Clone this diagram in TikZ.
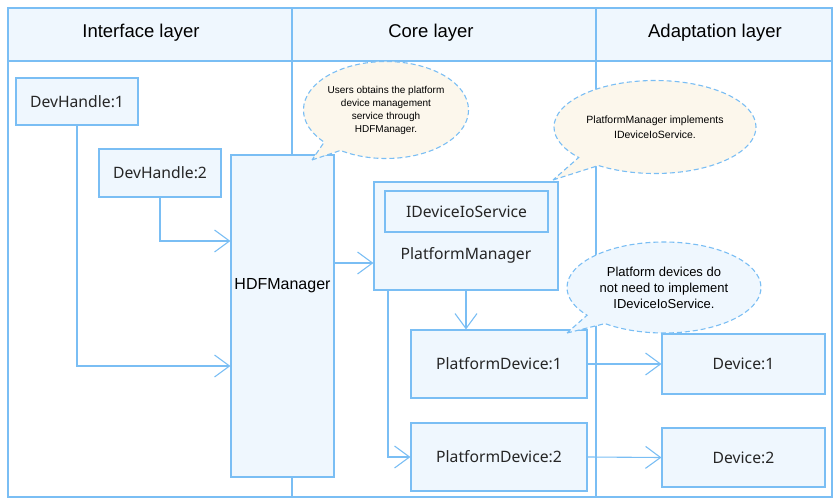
\documentclass[tikz,border=0pt]{standalone}
\usepackage{fontspec}
\setmainfont{Liberation Sans}
\newfontfamily\boxfont{Noto Sans}
\usetikzlibrary{arrows.meta,shapes.callouts}
\definecolor{lineblue}{HTML}{7ABEF4}
\definecolor{boxfill}{HTML}{EFF7FE}
\definecolor{notefill}{HTML}{FCF7EC}

\begin{document}
\begin{tikzpicture}[x=1pt, y=-1pt, line width=1.1pt,
        frame/.style={draw=lineblue},
        blk/.style={draw=lineblue, fill=boxfill, inner sep=0pt, text=black!85,
            font=\boxfont\fontsize{15.7}{17}\selectfont},
        conn/.style={draw=lineblue, -{Straight Barb[length=15pt, width=22pt]}},
        note/.style={ellipse callout, draw=lineblue, dash pattern=on 5pt off 3pt,
            fill=notefill, align=center, inner sep=0pt, text=black}]
        \useasboundingbox (0,0) rectangle (839,503);
        \fill[boxfill] (8,8) rectangle (832,61);
        \draw[frame] (8,8) rectangle (832,497);
        \draw[frame] (8,61) -- (832,61);
        \foreach \x in {292, 596} {
            \draw[frame] (\x,8) -- (\x,497);
        }
        \node[font=\fontsize{18.5}{21}\selectfont] (hif) at (141,33) {Interface layer};
        \node[font=\fontsize{18.5}{21}\selectfont] (hcore) at (431,33) {Core layer};
        \node[font=\fontsize{18.5}{21}\selectfont] (hadapt) at (715,33) {Adaptation layer};

        \node[blk, minimum width=122pt, minimum height=47pt] (dh1) at (77,101.5) {DevHandle:1};
        \node[blk, minimum width=122pt, minimum height=48pt] (dh2) at (160,173) {DevHandle:2};
        \node[blk, minimum width=103pt, minimum height=322pt] (hdf) at (282.5,316) {};
        \node[font=\fontsize{16}{18}\selectfont] (hdftext) at (282.5,286) {HDFManager};
        \node[blk, minimum width=184pt, minimum height=108pt] (pm) at (466,236) {};
        \node[blk, minimum width=163pt, minimum height=41pt] (ids) at (466.5,211.5) {IDeviceIoService};
        \node[font=\boxfont\fontsize{15.7}{17}\selectfont, text=black!85] (pmtext) at (466,255) {PlatformManager};
        \node[blk, minimum width=176pt, minimum height=68pt] (pd1) at (499,364) {PlatformDevice:1};
        \node[blk, minimum width=176pt, minimum height=68pt] (pd2) at (499,457) {PlatformDevice:2};
        \node[blk, minimum width=163pt, minimum height=60pt] (d1) at (743.5,364) {Device:1};
        \node[blk, minimum width=163pt, minimum height=59pt] (d2) at (743.5,457.5) {Device:2};

        \draw[conn] (dh1.south) |- ([yshift=-50pt]hdf.west);
        \draw[conn] (dh2.south) |- ([yshift=75pt]hdf.west);
        \draw[conn] ([yshift=-27pt]pm.west -| hdf.east) -- ([yshift=-27pt]pm.west);
        \draw[conn] (pm.south) -- (pm.south |- pd1.north);
        \draw[conn] ([xshift=-78pt]pm.south) |- (pd2.west);
        \draw[conn] (pd1.east) -- (d1.west);
        \draw[conn] (pd2.east) -- (d2.west);

        \coordinate (tip1) at (312,160);
        \coordinate (tip2) at (553,180);
        \coordinate (tip3) at (567,333);
        \node[note, minimum width=149pt, minimum height=97pt, callout absolute pointer={(tip1)},
            font=\fontsize{10}{13}\selectfont] (n1) at (386,110)
            {Users obtains the platform\\device management\\service through\\HDFManager.};
        \node[note, minimum width=202pt, minimum height=93pt, callout absolute pointer={(tip2)},
            font=\fontsize{10.5}{15}\selectfont] (n2) at (655,127)
            {PlatformManager implements\\IDeviceIoService.};
        \node[note, fill=boxfill, minimum width=194pt, minimum height=91pt, callout absolute pointer={(tip3)},
            font=\fontsize{13}{16}\selectfont] (n3) at (664,287.5)
            {Platform devices do\\not need to implement\\IDeviceIoService.};
\end{tikzpicture}
\end{document}
